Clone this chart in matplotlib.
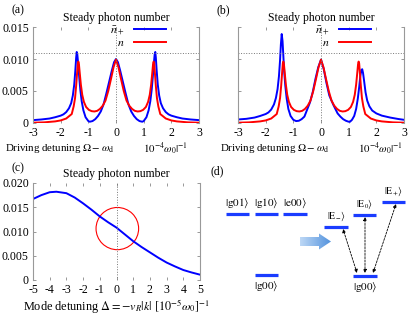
import numpy as np
import matplotlib
matplotlib.use("Agg")
import matplotlib.pyplot as plt
from matplotlib.patches import Ellipse, Polygon
from matplotlib.colors import LinearSegmentedColormap

plt.rcParams['font.family'] = ['Liberation Serif', 'DejaVu Serif']
plt.rcParams['mathtext.fontset'] = 'stix'
plt.rcParams['axes.unicode_minus'] = False
plt.rcParams['font.size'] = 8.5

# ---- data (photon numbers in units of 1e-3) ----
# (a) blue n+ (symmetric)
xa_blue = [-3.0, -2.7, -2.4, -2.2, -2.0, -1.9, -1.8, -1.7, -1.62, -1.56, -1.51, -1.47,
           -1.44, -1.42, -1.40, -1.37, -1.33, -1.29, -1.24, -1.18, -1.10, -1.0, -0.95,
           -0.85, -0.75, -0.65, -0.55, -0.45, -0.35, -0.25, -0.15, -0.07, 0.0,
           0.07, 0.15, 0.25, 0.35, 0.45, 0.55, 0.65, 0.75, 0.85, 0.95, 1.0, 1.10, 1.18,
           1.24, 1.29, 1.33, 1.37, 1.40, 1.42, 1.44, 1.47, 1.51, 1.56, 1.62, 1.7, 1.8,
           1.9, 2.0, 2.2, 2.4, 2.7, 3.0]
ya_blue = [0.45, 0.55, 0.7, 0.9, 1.15, 1.35, 1.7, 2.3, 3.1, 4.3, 6.0, 8.2,
           10.2, 11.1, 10.8, 9.4, 7.2, 5.2, 3.4, 2.0, 0.9, 0.3, 0.2,
           0.3, 0.6, 1.1, 1.8, 2.9, 4.6, 6.4, 8.2, 9.5, 10.0,
           9.5, 8.2, 6.4, 4.6, 2.9, 1.8, 1.1, 0.6, 0.3, 0.2, 0.3, 0.9, 2.0,
           3.4, 5.2, 7.2, 9.4, 10.8, 11.1, 10.2, 8.2, 6.0, 4.3, 3.1, 2.3, 1.7,
           1.35, 1.15, 0.9, 0.7, 0.55, 0.45]

# red n (same in (a) and (b))
x_red = [-3.0, -2.6, -2.2, -2.0, -1.8, -1.7, -1.6, -1.53, -1.48, -1.44, -1.41, -1.38,
         -1.36, -1.34, -1.31, -1.27, -1.22, -1.16, -1.08, -0.98, -0.88, -0.78, -0.68,
         -0.58, -0.48, -0.38, -0.28, -0.18, -0.09, 0.0,
         0.09, 0.18, 0.28, 0.38, 0.48, 0.58, 0.68, 0.78, 0.88, 0.98, 1.08, 1.16,
         1.22, 1.27, 1.31, 1.34, 1.36, 1.38, 1.41, 1.44, 1.48, 1.53, 1.6, 1.7, 1.8,
         2.0, 2.2, 2.6, 3.0]
y_red = [0.05, 0.1, 0.25, 0.4, 0.7, 1.05, 1.4, 2.6, 3.9, 5.8, 7.6, 9.3,
         9.6, 9.2, 7.8, 6.0, 4.4, 3.3, 2.5, 2.05, 1.85, 1.8, 1.9,
         2.2, 2.7, 3.5, 5.0, 6.9, 8.7, 9.9,
         8.7, 6.9, 5.0, 3.5, 2.7, 2.2, 1.9, 1.8, 1.85, 2.05, 2.5, 3.3,
         4.4, 6.0, 7.8, 9.2, 9.6, 9.3, 7.6, 5.8, 3.9, 2.6, 1.4, 1.05, 0.7,
         0.4, 0.25, 0.1, 0.05]

# (b) blue n+ (asymmetric)
xb_blue = [-3.0, -2.7, -2.4, -2.2, -2.0, -1.9, -1.8, -1.7, -1.63, -1.57, -1.52, -1.48,
           -1.45, -1.42, -1.39, -1.36, -1.33, -1.29, -1.24, -1.18, -1.10, -1.0, -0.9,
           -0.8, -0.7, -0.6, -0.5, -0.4, -0.3, -0.2, -0.1, 0.0,
           0.1, 0.2, 0.3, 0.45, 0.6, 0.7, 0.8, 0.9, 1.0, 1.05, 1.12, 1.2, 1.27, 1.33,
           1.38, 1.42, 1.46, 1.49, 1.52, 1.56, 1.61, 1.67, 1.75, 1.85, 2.0, 2.2, 2.5,
           2.8, 3.0]
yb_blue = [0.55, 0.65, 0.85, 1.1, 1.4, 1.65, 2.1, 2.9, 3.9, 5.3, 7.3, 9.8,
           12.3, 13.9, 12.8, 10.4, 8.0, 5.8, 3.8, 2.2, 1.1, 0.5, 0.3,
           0.35, 0.6, 1.0, 2.1, 3.2, 4.8, 6.9, 8.7, 9.9,
           8.4, 6.2, 4.3, 2.8, 1.5, 1.0, 0.6, 0.35, 0.2, 0.2, 0.5, 1.1, 2.2, 3.8,
           5.6, 7.3, 8.3, 8.4, 7.8, 6.5, 4.8, 3.5, 2.6, 1.95, 1.5, 1.15, 0.85,
           0.62, 0.5]

# (c) steady photon number vs mode detuning
xc = [-5.0, -4.5, -4.0, -3.6, -3.0, -2.5, -2.0, -1.5, -1.0, -0.5, 0.0,
      0.5, 1.0, 1.5, 2.0, 2.5, 3.0, 3.5, 4.0, 4.5, 5.0]
yc = [16.7, 17.5, 18.1, 18.2, 17.9, 17.0, 15.8, 14.5, 13.1, 11.9, 10.8,
      9.4, 8.0, 6.8, 5.7, 4.6, 3.6, 2.8, 2.06, 1.55, 1.1]

n_ref = 0.011  # dotted reference level

W, H = 415, 315
fig = plt.figure(figsize=(W / 100, H / 100), dpi=100)


def box(l, t, r, b):
    return [l / W, 1 - b / H, (r - l) / W, (b - t) / H]


def style(ax):
    for s in ['top', 'bottom']:
        ax.spines[s].set_visible(False)
    for s in ['left', 'right']:
        ax.spines[s].set_color('#999999')
        ax.spines[s].set_linewidth(0.8)
    ax.tick_params(direction='in', length=2.5, width=0.6, color='#888888',
                   top=True, right=True, labelsize=8.5, pad=3)


def photon_panel(ax, xb, yb, label, left_labels=True):
    style(ax)
    ax.plot(xb, np.array(yb) * 1e-3, color='blue', lw=1.4, label=r'$\bar{n}_+$')
    ax.plot(x_red, np.array(y_red) * 1e-3, color='red', lw=1.4, label=r'$n$')
    ax.axhline(n_ref, color='#777777', ls=':', lw=0.7)
    ax.axvline(0, color='#777777', ls=':', lw=0.7)
    ax.set_xlim(-3, 3)
    ax.set_ylim(0, 0.015)
    ax.set_xticks(range(-3, 4))
    ax.set_yticks([0, 0.005, 0.010, 0.015])
    if left_labels:
        ax.set_yticklabels(['0', '0.005', '0.010', '0.015'])
    else:
        ax.set_yticklabels([])
    ax.set_title('Steady photon number', fontsize=8.5, pad=4)
    ax.legend(loc='upper right', bbox_to_anchor=(0.80, 1.03), frameon=False,
              markerfirst=False, handlelength=2.7, handletextpad=0.8,
              labelspacing=0.05, fontsize=8.5, borderaxespad=0, borderpad=0)
    ax.text(-0.09, 1.17, label, transform=ax.transAxes, ha='center', va='center')
    ax.text(-0.08, -0.265, r'Driving detuning $\Omega-\omega_{\rm d}$',
            transform=ax.transAxes, ha='left', va='center', fontsize=7.8)
    ax.text(0.66, -0.265, r'$10^{-4}\omega_0|^{-1}$',
            transform=ax.transAxes, ha='left', va='center', fontsize=7.8)


ax_a = fig.add_axes(box(33, 27, 199, 123))
photon_panel(ax_a, xa_blue, ya_blue, '(a)')
ax_a.texts[-2].set_x(-0.17)

ax_b = fig.add_axes(box(238, 27, 404, 123))
photon_panel(ax_b, xb_blue, yb_blue, '(b)', left_labels=False)
ax_b.texts[-2].set_x(-0.11)
ax_b.texts[-1].set_x(0.72)

# (c)
ax_c = fig.add_axes(box(33, 183, 200, 280))
style(ax_c)
ax_c.plot(xc, np.array(yc) * 1e-3, color='blue', lw=1.4)
ax_c.axvline(0, color='#777777', ls=':', lw=0.7)
ax_c.add_patch(Ellipse((0.05, 0.0106), 2.55, 0.0087, fill=False, ec='red', lw=0.8))
ax_c.set_xlim(-5, 5)
ax_c.set_ylim(0, 0.020)
ax_c.set_xticks(range(-5, 6))
ax_c.set_yticks([0, 0.005, 0.010, 0.015, 0.020])
ax_c.set_yticklabels(['0', '0.005', '0.010', '0.015', '0.020'])
ax_c.set_title('Steady photon number', fontsize=8.5, pad=4)
ax_c.text(-0.09, 1.15, '(c)', transform=ax_c.transAxes, ha='center', va='center')
ax_c.text(0.5, -0.265, r'Mode detuning $\Delta = -v_R|k|\ [10^{-5}\omega_0]^{-1}$',
          transform=ax_c.transAxes, ha='center', va='center', fontsize=8.8)

# (d) level diagram, drawn in figure pixel coordinates
ax_d = fig.add_axes(box(205, 150, 415, 315))
ax_d.axis('off')
lev = '#1a3cff'
left_levels = [(226, 249, 214, r'$|\mathrm{g}01\rangle$'),
               (255, 278, 214, r'$|\mathrm{g}10\rangle$'),
               (283, 307, 214, r'$|\mathrm{e}00\rangle$')]
for x0, x1, y, t in left_levels:
    ax_d.plot([x0, x1], [y, y], color=lev, lw=2.3, solid_capstyle='butt')
    ax_d.text((x0 + x1) / 2, y - 4, t, ha='center', va='bottom', fontsize=8)
ax_d.plot([255, 278], [275, 275], color=lev, lw=2.3, solid_capstyle='butt')
ax_d.text(266.5, 280, r'$|\mathrm{g}00\rangle$', ha='center', va='top', fontsize=8)

right_levels = [(324, 348, 227, r'$|\mathrm{E}_{-}\rangle$'),
                (353, 376, 215, r'$|\mathrm{E}_{0}\rangle$'),
                (382, 405, 202, r'$|\mathrm{E}_{+}\rangle$')]
for x0, x1, y, t in right_levels:
    ax_d.plot([x0, x1], [y, y], color=lev, lw=2.3, solid_capstyle='butt')
    ax_d.text((x0 + x1) / 2, y - 4, t, ha='center', va='bottom', fontsize=7)
ax_d.plot([353, 377], [276, 276], color=lev, lw=2.3, solid_capstyle='butt')
ax_d.text(365, 281, r'$|\mathrm{g}00\rangle$', ha='center', va='top', fontsize=8)

for (xs, ys), (xe, ye) in [((357, 273), (343, 229)),
                           ((365, 273), (365, 217)),
                           ((373, 273), (396, 204))]:
    ax_d.annotate('', xy=(xe, ye), xytext=(xs, ys),
                  arrowprops=dict(arrowstyle='<|-|>', ls=(0, (2.5, 1.5)), lw=0.6,
                                  color='black', mutation_scale=5,
                                  shrinkA=0, shrinkB=0))

# gradient arrow
arrow = Polygon([(300, 237), (319, 237), (319, 233.5), (331, 241.5),
                 (319, 249.5), (319, 246), (300, 246)], closed=True,
                fc='none', ec='none')
ax_d.add_patch(arrow)
grad = np.linspace(0, 1, 64).reshape(1, -1)
cmap = LinearSegmentedColormap.from_list('g', ['#c4dcf7', '#4d8fdc'])
img = ax_d.imshow(grad, extent=(298, 333, 250, 233), cmap=cmap,
                  aspect='auto', zorder=2)
img.set_clip_path(arrow)
ax_d.set_xlim(205, 415)
ax_d.set_ylim(315, 150)
ax_d.text(217, 171, '(d)', ha='center', va='center')

fig.savefig('out.png', dpi=100)
